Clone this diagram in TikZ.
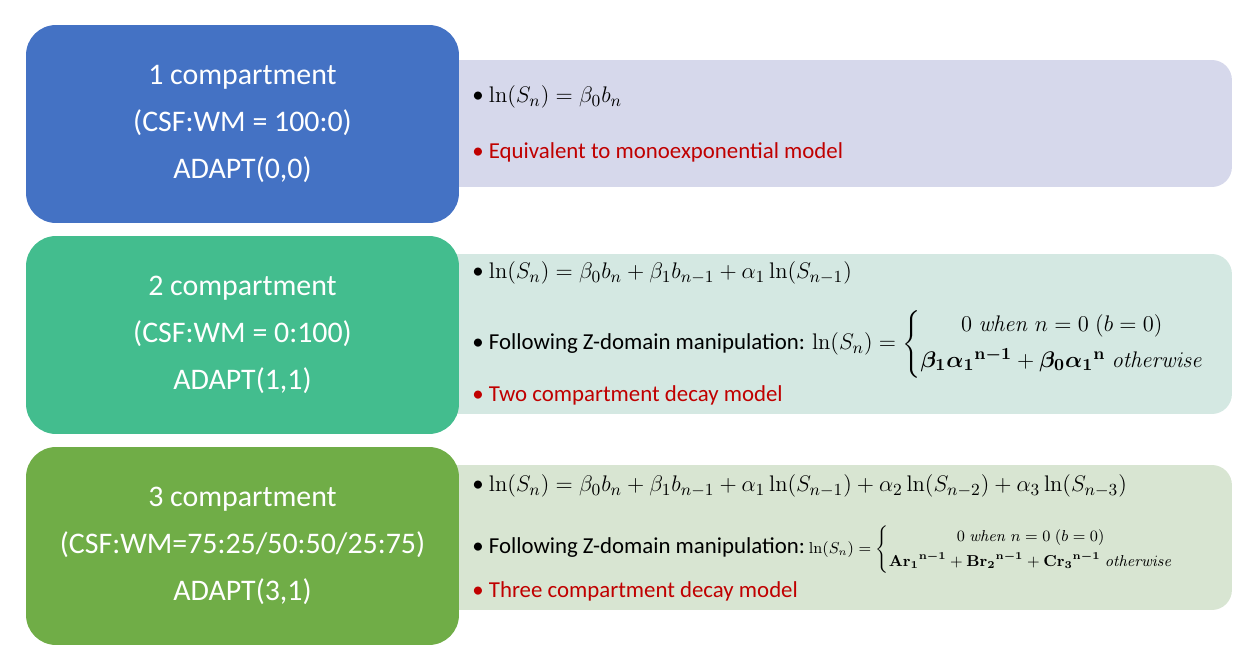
\documentclass[tikz,border=0pt]{standalone}
\usepackage[no-math]{fontspec}
\setmainfont{Carlito}
\usepackage{amsmath}
\usepackage{bm}
\usetikzlibrary{positioning}
\definecolor{boxblue}{RGB}{68,114,196}
\definecolor{boxteal}{RGB}{67,189,142}
\definecolor{boxgreen}{RGB}{112,173,71}
\definecolor{panelblue}{RGB}{214,216,235}
\definecolor{panelteal}{RGB}{212,232,226}
\definecolor{panelgreen}{RGB}{216,229,210}
\definecolor{notered}{RGB}{192,0,0}
\newcommand{\eqmath}[1]{\scalebox{1.07}{$#1$}}
\newcommand{\eqsmall}[1]{{\fontsize{9.2}{11}\selectfont$#1$}}

\begin{document}
\begin{tikzpicture}[
    x=0.02cm, y=-0.02cm,
    comp/.style={rectangle, rounded corners=0.6cm, minimum width=8.66cm,
                 minimum height=3.96cm, align=center, text=white, inner sep=0pt,
                 font=\fontsize{17}{26.8}\selectfont},
    panel/.style={rectangle, rounded corners=0.4cm, minimum width=15.84cm,
                  inner sep=0pt},
    eq/.style={anchor=west, inner sep=0pt, font=\fontsize{13}{15}\selectfont},
    note/.style={eq, text=notered}
]
\useasboundingbox (0,0) rectangle (1255,655);

% Panels behind the compartment boxes
\node[panel, fill=panelblue,  minimum height=2.54cm] (p1) at (836,123.5) {};
\node[panel, fill=panelteal,  minimum height=3.2cm]  (p2) at (836,334)   {};
\node[panel, fill=panelgreen, minimum height=2.9cm]  (p3) at (836,537.5) {};

% Compartment boxes
\node[comp, fill=boxblue]  (c1) at (242.5,124) {1 compartment\\(CSF:WM = 100:0)\\ADAPT(0,0)};
\node[comp, fill=boxteal]  (c2) at (242.5,335) {2 compartment\\(CSF:WM = 0:100)\\ADAPT(1,1)};
\node[comp, fill=boxgreen] (c3) at (242.5,546) {3 compartment\\(CSF:WM=75:25/50:50/25:75)\\ADAPT(3,1)};

% 1 compartment
\node[eq]   (e1a) at (472,97)  {• \eqmath{\ln(S_n) = \beta_0 b_n}};
\node[note] (e1b) at (472,152) {• Equivalent to monoexponential model};

% 2 compartment
\node[eq]   (e2a) at (472,273) {• \eqmath{\ln(S_n) = \beta_0 b_n + \beta_1 b_{n-1} + \alpha_1\ln(S_{n-1})}};
\node[eq]   (e2b) at (472,344) {• Following Z-domain manipulation: \eqmath{\ln(S_n) = \left\{\begin{array}{@{}c@{}}
    0\;\mathit{when}\; n = 0\;(b = 0)\\[4pt]
    \boldsymbol{\beta_1{\alpha_1}^{\mathrm{n-1}}} + \boldsymbol{\beta_0{\alpha_1}^{\mathrm{n}}}\;\mathit{otherwise}
    \end{array}\right.}};
\node[note] (e2c) at (472,395) {• Two compartment decay model};

% 3 compartment
\node[eq]   (e3a) at (472,486) {• \eqmath{\ln(S_n) = \beta_0 b_n + \beta_1 b_{n-1} + \alpha_1\ln(S_{n-1}) + \alpha_2\ln(S_{n-2}) + \alpha_3\ln(S_{n-3})}};
\node[eq]   (e3b) at (472,550) {• Following Z-domain manipulation:\,\eqsmall{\ln(S_n) = \left\{\begin{array}{@{}c@{}}
    0\;\mathit{when}\; n = 0\;(b = 0)\\[3pt]
    \boldsymbol{{\mathrm{Ar}_1}^{\mathrm{n-1}}} + \boldsymbol{{\mathrm{Br}_2}^{\mathrm{n-1}}} + \boldsymbol{{\mathrm{Cr}_3}^{\mathrm{n-1}}}\;\mathit{otherwise}
    \end{array}\right.}};
\node[note] (e3c) at (472,591) {• Three compartment decay model};

\end{tikzpicture}
\end{document}
